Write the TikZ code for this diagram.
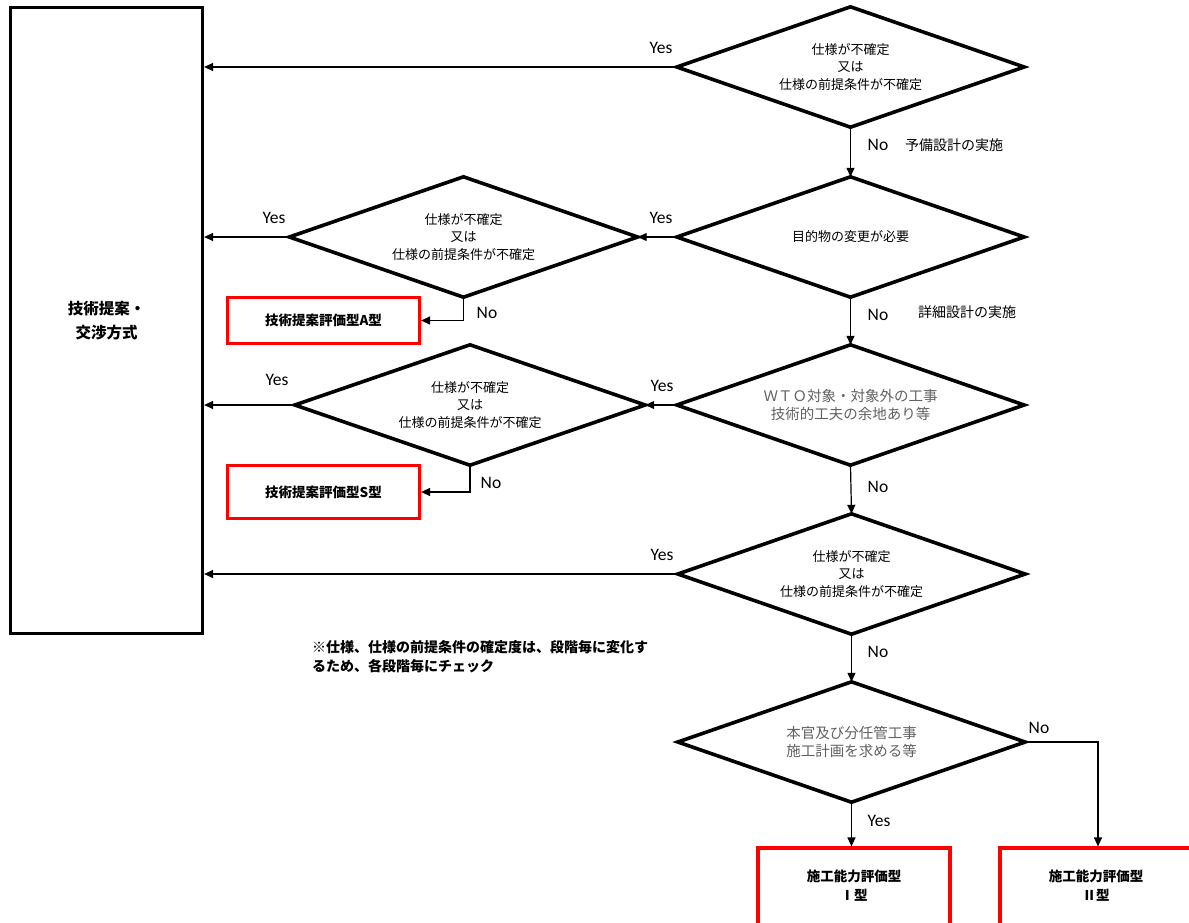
\documentclass[tikz,border=0pt]{standalone}
\usepackage{fontspec}
\setmainfont{Carlito}
\newfontfamily\jp{Noto Sans CJK JP}
\usetikzlibrary{shapes.geometric,arrows.meta}
\tikzset{
  dia/.style={rectangle,draw=none,inner sep=0pt,minimum width=347pt,minimum height=120pt,align=center,font=\jp\fontsize{13}{17.5}\selectfont},
  gtxt/.style={text=black!62,font=\jp\fontsize{14.5}{18}\selectfont},
  dline/.style={draw=black,line width=3.6pt,line join=miter},
  bigbox/.style={draw=black,line width=3.2pt,minimum width=192pt,minimum height=626pt,align=center,font=\jp\bfseries\fontsize{15.5}{24}\selectfont},
  redbox/.style={draw=red,line width=3.2pt,minimum width=192pt,align=center,font=\jp\bfseries\fontsize{13.5}{19}\selectfont},
  arr/.style={draw=black,line width=1.2pt,-{Triangle[length=9pt,width=8pt]}},
  lbl/.style={font=\fontsize{17.5}{20}\selectfont,anchor=center},
  jlbl/.style={font=\jp\fontsize{14}{16}\selectfont,anchor=center}
}
\newcommand{\dshape}[1]{\draw[dline] (#1.north) -- (#1.east) -- (#1.south) -- (#1.west) -- cycle;}
\begin{document}
\begin{tikzpicture}[x=1pt,y=-1pt]
\clip (0,0) rectangle (1189,922);
\fill[white] (0,0) rectangle (1189,922);
% left big box
\node[bigbox] (big) at (106.5,320.5) {技術提案・\\交渉方式};
% diamonds right column
\node[dia] (d1) at (850.5,67) {仕様が不確定\\又は\\仕様の前提条件が不確定};
\node[dia] (d2) at (850.5,237) {目的物の変更が必要};
\node[dia,gtxt] (d3) at (850.5,405) {ＷＴＯ対象・対象外の工事\\技術的工夫の余地あり等};
\node[dia] (d4) at (851.5,574) {仕様が不確定\\又は\\仕様の前提条件が不確定};
\node[dia,gtxt] (d5) at (851.5,742) {本官及び分任管工事\\施工計画を求める等};
% left diamonds
\node[dia,minimum width=348pt] (d2l) at (463.5,237) {仕様が不確定\\又は\\仕様の前提条件が不確定};
\node[dia,minimum width=350pt] (d3l) at (470,405) {仕様が不確定\\又は\\仕様の前提条件が不確定};
\dshape{d1}\dshape{d2}\dshape{d3}\dshape{d4}\dshape{d5}\dshape{d2l}\dshape{d3l}
% red boxes
\node[redbox,minimum height=46pt] (ra) at (323.5,320.5) {技術提案評価型A型};
\node[redbox,minimum height=53pt] (rs) at (323.5,492) {技術提案評価型S型};
\node[redbox,minimum height=120pt,text depth=45pt] (r1) at (854,908) {施工能力評価型\\Ⅰ型};
\node[redbox,minimum height=120pt,text depth=45pt] (r2) at (1096,908) {施工能力評価型\\Ⅱ型};
% connectors
\draw[arr] (d1.west) -- (d1.west -| big.east);
\draw[arr] (d1.south) -- (d2.north);
\draw[arr] (d2.west) -- (d2l.east);
\draw[arr] (d2l.west) -- (d2l.west -| big.east);
\draw[arr] (d2l.south) |- (ra.east);
\draw[arr] (d2.south) -- (d3.north);
\draw[arr] (d3.west) -- (d3l.east);
\draw[arr] (d3l.west) -- (d3l.west -| big.east);
\draw[arr] (d3l.south) |- (rs.east);
\draw[arr] (d3.south) -- (d4.north);
\draw[arr] (d4.west) -- (d4.west -| big.east);
\draw[arr] (d4.south) -- (d5.north);
\coordinate (c5) at (1098,742);
\draw[arr] (d5.east) -- (c5) -- (c5 |- r2.north);
\draw[arr] (d5.south) -- (d5.south |- r1.north);
% labels
\node[lbl] (y1) at (661,48) {Yes};
\node[lbl] (n1) at (878,145) {No};
\node[jlbl] (p1) at (954,145) {予備設計の実施};
\node[lbl] (y2) at (661,218) {Yes};
\node[lbl] (y2l) at (274,218) {Yes};
\node[lbl] (n2l) at (487,313) {No};
\node[lbl] (n2) at (878,315) {No};
\node[jlbl] (p2) at (967,312) {詳細設計の実施};
\node[lbl] (y3) at (662,386) {Yes};
\node[lbl] (y3l) at (277,380) {Yes};
\node[lbl] (n3l) at (491,483) {No};
\node[lbl] (n3) at (878,487) {No};
\node[lbl] (y4) at (662,555) {Yes};
\node[lbl] (n4) at (878,652) {No};
\node[lbl] (n5) at (1039,728) {No};
\node[lbl] (y5) at (879,821) {Yes};
% note
\node[anchor=north west,align=left,font=\jp\bfseries\fontsize{14}{19}\selectfont,inner sep=0pt] (note) at (312,640) {※仕様、仕様の前提条件の確定度は、段階毎に変化す\\るため、各段階毎にチェック};
\end{tikzpicture}
\end{document}
